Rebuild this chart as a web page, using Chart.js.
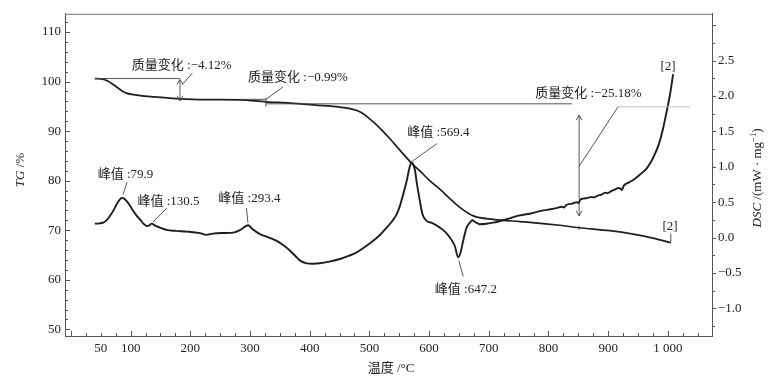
<!DOCTYPE html>
<html>
<head>
<meta charset="utf-8">
<script src="https://cdn.jsdelivr.net/npm/chart.js@4.4.1/dist/chart.umd.min.js"></script>
<style>
  html, body { margin: 0; padding: 0; background: #fff; }
  #wrap { width: 780px; height: 384px; position: relative; }
</style>
</head>
<body>
<div id="wrap"><canvas id="tgdsc"></canvas></div>
<script>
// TG curve: temperature (°C) and mass (%)
const tgTemp = [40, 50, 60, 68, 76.5, 85, 93, 105, 116, 140, 183, 230, 283, 327, 367, 410, 450, 484, 506, 520,
  534, 550, 571, 585, 601, 618, 640, 656, 674, 707, 752, 769, 819, 851, 903, 942, 975, 1005];
const tgMass = [100.6, 100.55, 100.2, 99.6, 98.9, 98.15, 97.65, 97.35, 97.15, 96.9, 96.5, 96.35, 96.3, 95.9, 95.65, 95.25, 94.85, 93.9, 91.9, 90.3,
  88.5, 86.3, 83.5, 81.9, 80.0, 78.3, 75.8, 74.2, 72.9, 72.2, 71.75, 71.6, 71.0, 70.5, 69.9, 69.2, 68.4, 67.5];

// DSC curve: temperature (°C) and heat flow (mW/mg)
const dscTemp = [40, 48, 54, 60, 65, 71, 76.5, 81, 85.4, 89, 93.3, 99, 104.4, 110, 115.6, 121, 126.8, 131, 135.2, 141,
  149, 160, 177, 194, 216, 227, 238, 255, 272, 283, 291, 297, 304, 316.6, 330, 344.6, 356, 367, 376, 384,
  395, 405, 417, 433, 450.6, 465, 478.6, 493, 506.4, 518, 528.8, 538, 545.6, 551, 556.6, 562.3, 566.5, 570.3, 573.5, 576.3,
  579, 584.6, 589, 595.8, 604, 618, 627, 634.8, 643, 648.7, 652.7, 657.1, 662.8, 668.3, 672.2, 678, 685, 696, 707.4, 729.8,
  752, 769, 785.6, 800, 815, 822, 826, 830, 840, 848, 851, 853, 858, 866, 872, 876, 882, 890, 895, 899,
  905, 912, 917, 921, 923, 926, 935, 945, 953, 965, 975, 985, 992, 998, 1003.4, 1008.9];
const dscHeat = [0.196, 0.2, 0.21, 0.245, 0.3, 0.38, 0.468, 0.53, 0.56, 0.55, 0.514, 0.45, 0.374, 0.31, 0.258, 0.2, 0.164, 0.17, 0.196, 0.168,
  0.14, 0.108, 0.094, 0.084, 0.062, 0.038, 0.056, 0.064, 0.07, 0.104, 0.15, 0.174, 0.12, 0.048, 0.005, -0.046, -0.11, -0.186, -0.26, -0.326,
  -0.364, -0.37, -0.364, -0.34, -0.303, -0.26, -0.21, -0.13, -0.046, 0.04, 0.14, 0.23, 0.328, 0.444, 0.608, 0.794, 0.96, 1.06, 1.03, 0.95,
  0.794, 0.514, 0.328, 0.235, 0.21, 0.14, 0.08, 0.0, -0.116, -0.28, -0.21, -0.046, 0.14, 0.21, 0.244, 0.215, 0.188, 0.195, 0.21, 0.258,
  0.314, 0.336, 0.374, 0.395, 0.42, 0.435, 0.425, 0.46, 0.48, 0.5, 0.485, 0.53, 0.55, 0.56, 0.575, 0.565, 0.59, 0.61, 0.635, 0.625,
  0.655, 0.68, 0.70, 0.69, 0.67, 0.73, 0.78, 0.83, 0.888, 0.98, 1.12, 1.32, 1.54, 1.78, 2.01, 2.31];

const xTicks = [50, 100, 200, 300, 400, 500, 600, 700, 800, 900, 1000];
const tgTicks = [50, 60, 70, 80, 90, 100, 110];
const dscTicks = [-1.0, -0.5, 0, 0.5, 1.0, 1.5, 2.0, 2.5];

const massChanges = ['质量变化 :−4.12%', '质量变化 :−0.99%', '质量变化 :−25.18%'];
const peakLabels = ['峰值 :79.9', '峰值 :130.5', '峰值 :293.4', '峰值 :569.4', '峰值 :647.2'];

const serif = "'Liberation Serif', 'Noto Sans CJK SC', serif";
const ink = '#222';
const axisGrey = '#555';

function pairs(xs, ys) {
  return xs.map((v, i) => ({ x: v, y: ys[i] }));
}

// annotation lines, arrows, ticks and texts, placed in data units
const decor = {
  id: 'decor',
  afterDatasetsDraw(chart) {
    const { ctx, chartArea: a, scales: { x, y, y1 } } = chart;
    const X = v => x.getPixelForValue(v);
    const TG = v => y.getPixelForValue(v);
    const D = v => y1.getPixelForValue(v);

    const line = (x0, y0, x2, y2) => {
      ctx.beginPath(); ctx.moveTo(x0, y0); ctx.lineTo(x2, y2); ctx.stroke();
    };
    const head = (px, py, dir) => {
      ctx.beginPath();
      ctx.moveTo(px - 3, py - dir * 5); ctx.lineTo(px, py); ctx.lineTo(px + 3, py - dir * 5);
      ctx.stroke();
    };
    const text = (s, px, py) => {
      ctx.font = '13px ' + serif;
      ctx.fillStyle = ink;
      ctx.textAlign = 'center';
      ctx.textBaseline = 'middle';
      ctx.fillText(s, px, py);
    };

    ctx.save();
    ctx.lineWidth = 1;
    ctx.strokeStyle = '#777';
    line(a.left, a.top + 0.5, a.right, a.top + 0.5);

    // axis ticks
    ctx.strokeStyle = axisGrey;
    for (let v = 50; v <= 112; v += 2) {
      const py = Math.round(TG(v)) + 0.5;
      line(a.left, py, a.left + (v % 10 === 0 ? 5 : 3), py);
    }
    for (let k = -5; k <= 12; k++) {
      const py = Math.round(D(k * 0.25)) + 0.5;
      line(a.right, py, a.right + (k % 2 === 0 ? 4 : 3), py);
    }
    for (let v = 0; v <= 1050; v += 25) {
      const px = Math.round(X(v)) + 0.5;
      line(px, a.bottom, px, a.bottom - (v % 100 === 0 ? 5 : 3));
    }

    // mass change markers
    ctx.strokeStyle = '#444';
    ctx.lineWidth = 0.9;
    line(X(40.2), TG(100.6), X(182.6), TG(100.6));
    line(X(182.6), TG(100.4), X(182.6), TG(96.1));
    head(X(182.6), TG(100.4), -1);
    head(X(182.6), TG(96.1), 1);
    line(X(186.6), TG(99.4), X(203.4), TG(101.7));
    text(massChanges[0], X(185.6), TG(103.3));

    line(X(283), TG(96.4), X(326.7), TG(96.4));
    line(X(326.7), TG(96.7), X(326.7), TG(94.9));
    line(X(326.7), TG(96.4), X(355.2), TG(98.9));
    text(massChanges[1], X(380.3), TG(100.7));

    line(X(326.7), TG(95.5), X(839.3), TG(95.5));
    line(X(851.4), TG(93.2), X(851.4), TG(72.9));
    head(X(851.4), TG(93.2), -1);
    head(X(851.4), TG(72.9), 1);
    line(X(851.4), TG(70.9), X(851.4), TG(70.1));
    line(X(851.4), TG(82.9), X(916.7), TG(94.9));
    ctx.strokeStyle = '#bbb';
    line(X(916.7), TG(94.9), X(1037), TG(94.9));
    ctx.strokeStyle = '#444';
    text(massChanges[2], X(866.8), TG(97.5));

    // DSC peak labels
    const peaks = [
      [87.3, 0.61, 94, 0.78, 91.3, 0.892],
      [137.4, 0.22, 160.8, 0.416, 163.3, 0.514],
      [296.5, 0.206, 294, 0.416, 299, 0.556],
      [571.2, 1.074, 613.1, 1.326, 615.6, 1.48],
      [649.9, -0.326, 657.1, -0.55, 661.6, -0.732]
    ];
    peaks.forEach((p, i) => {
      line(X(p[0]), D(p[1]), X(p[2]), D(p[3]));
      text(peakLabels[i], X(p[4]), D(p[5]));
    });

    // end markers
    text('[2]', X(1000.3), D(2.42));
    text('[2]', X(1003.6), TG(70.7));
    line(X(1005), TG(69.3), X(1005), TG(67.5));

    // axis titles
    const piece = (parts, cx, cy, rot) => {
      ctx.save();
      ctx.translate(cx, cy);
      ctx.rotate(rot);
      ctx.textBaseline = 'middle';
      ctx.textAlign = 'left';
      ctx.fillStyle = ink;
      let w = 0;
      parts.forEach(p => { ctx.font = p.font; w += ctx.measureText(p.s).width; });
      let pos = -w / 2;
      parts.forEach(p => {
        ctx.font = p.font;
        ctx.fillText(p.s, pos, p.dy || 0);
        pos += ctx.measureText(p.s).width;
      });
      ctx.restore();
    };
    piece([
      { s: 'TG', font: 'italic 13px ' + serif },
      { s: ' /%', font: '13px ' + serif }
    ], 21, 170, -Math.PI / 2);
    piece([
      { s: 'DSC', font: 'italic 13px ' + serif },
      { s: ' /(mW · mg', font: '13px ' + serif },
      { s: '−1', font: '8.5px ' + serif, dy: -4 },
      { s: ')', font: '13px ' + serif }
    ], 758, 178, -Math.PI / 2);
    piece([
      { s: '温度 /°C', font: '13px ' + serif }
    ], 391, 369, 0);

    ctx.restore();
  }
};

const tickFont = { family: serif, size: 13 };

new Chart(document.getElementById('tgdsc'), {
  type: 'line',
  data: {
    datasets: [{
      label: 'TG',
      data: pairs(tgTemp, tgMass),
      yAxisID: 'y',
      borderColor: '#1e1e1e',
      borderWidth: 1.7,
      pointRadius: 0,
      cubicInterpolationMode: 'monotone',
      fill: false
    }, {
      label: 'DSC',
      data: pairs(dscTemp, dscHeat),
      yAxisID: 'y1',
      borderColor: '#1e1e1e',
      borderWidth: 1.9,
      pointRadius: 0,
      cubicInterpolationMode: 'monotone',
      fill: false
    }]
  },
  options: {
    responsive: true,
    maintainAspectRatio: false,
    animation: false,
    layout: { padding: { top: 11, left: 0, right: 0, bottom: 0 } },
    plugins: { legend: { display: false }, tooltip: { enabled: false } },
    scales: {
      x: {
        type: 'linear',
        min: -10,
        max: 1074,
        afterBuildTicks: s => { s.ticks = xTicks.map(v => ({ value: v })); },
        afterFit: s => { s.height = 48; },
        grid: { display: false, drawTicks: false },
        border: { color: axisGrey, width: 1 },
        ticks: {
          font: tickFont, color: ink, padding: 5, maxRotation: 0, autoSkip: false,
          callback: v => v === 1000 ? '1 000' : String(v)
        }
      },
      y: {
        position: 'left',
        min: 48.66,
        max: 113.66,
        afterBuildTicks: s => { s.ticks = tgTicks.map(v => ({ value: v })); },
        afterFit: s => { s.width = 65; },
        grid: { display: false, drawTicks: false },
        border: { color: axisGrey, width: 1 },
        ticks: { font: tickFont, color: ink, padding: 4 }
      },
      y1: {
        position: 'right',
        min: -1.391,
        max: 3.161,
        afterBuildTicks: s => { s.ticks = dscTicks.map(v => ({ value: v })); },
        afterFit: s => { s.width = 68; },
        grid: { display: false, drawTicks: false },
        border: { color: axisGrey, width: 1 },
        ticks: {
          font: tickFont, color: ink, padding: 6,
          callback: v => (v < 0 ? '−' : '') + Math.abs(v).toFixed(1)
        }
      }
    }
  },
  plugins: [decor]
});
</script>
</body>
</html>
